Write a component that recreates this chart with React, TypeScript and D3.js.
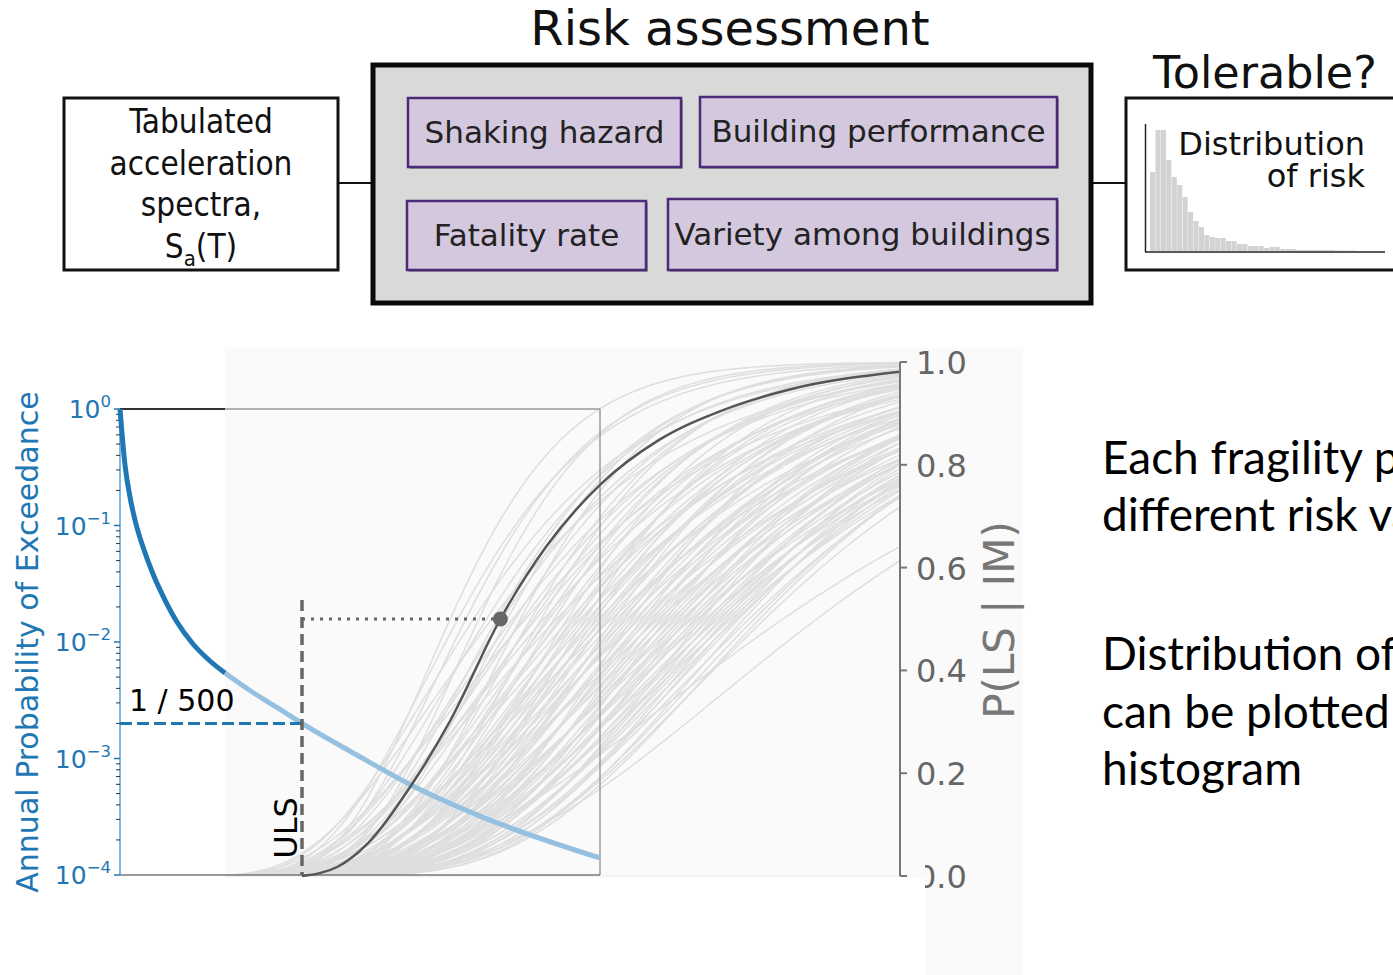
import React from 'react';
import * as d3 from 'd3';

// ---------- flow diagram content ----------
const mainTitle = 'Risk assessment';
const rightTitle = 'Tolerable?';
const inputLines = ['Tabulated', 'acceleration', 'spectra,'];
const riskFactors = ['Shaking hazard', 'Building performance', 'Fatality rate', 'Variety among buildings'];
const distLines = ['Distribution', 'of risk'];
// histogram of risk (relative bar heights)
const histCounts = [79, 121, 121, 91, 74, 66, 54, 39, 30, 24, 16, 14, 13, 13, 10, 10, 7, 7, 5, 5, 5, 3, 4, 4, 2, 2, 2, 1, 1, 1, 1, 1, 1, 1, 0.5, 0.5, 0.5, 0.5];

// ---------- hazard curve (IM in g, annual probability of exceedance) ----------
const hazardIM = [0, 0.0192, 0.0385, 0.0615, 0.0885, 0.1269, 0.1731, 0.2192, 0.2808, 0.3462, 0.4038, 0.5, 0.6038, 0.7, 0.9038, 1.119, 1.404, 1.846];
const hazardAPE = [1.0, 0.3307, 0.1757, 0.103, 0.0654, 0.03835, 0.02293, 0.01485, 0.00961, 0.00687, 0.00542, 0.003835, 0.002741, 0.002, 0.001093, 0.000593, 0.000308, 0.00014];
const hazardSplitIndex = 10;
const ulsIM = 0.7;
const ulsAPE = 1 / 500;
const apeTickExps = [0, -1, -2, -3, -4];

// ---------- fragility curves ----------
const fragIM = [0.7, 0.837, 0.954, 1.121, 1.271, 1.463, 1.638, 1.846, 2.072, 2.322, 2.572, 3.0];
const fragP = [0.0, 0.018, 0.064, 0.177, 0.303, 0.5, 0.64, 0.761, 0.848, 0.907, 0.946, 0.981];
const fragMedianIndex = 5;
const grayMedians = [
  1.27, 1.3, 1.33, 1.36, 1.38, 1.41, 1.43, 1.45, 1.47, 1.49,
  1.51, 1.52, 1.54, 1.55, 1.56, 1.58, 1.59, 1.6, 1.62, 1.63,
  1.64, 1.65, 1.67, 1.68, 1.69, 1.7, 1.72, 1.73, 1.74, 1.75,
  1.76, 1.77, 1.78, 1.79, 1.8, 1.81, 1.82, 1.83, 1.84, 1.85,
  1.86, 1.87, 1.88, 1.89, 1.9, 1.91, 1.92, 1.93, 1.94, 1.95,
  1.96, 1.97, 1.98, 1.99, 2.0, 2.01, 2.02, 2.03, 2.04, 2.05,
  2.06, 2.07, 2.08, 2.09, 2.1, 2.11, 2.12, 2.13, 2.14, 2.15,
  2.16, 2.17, 2.18, 2.19, 2.2, 2.21, 2.22, 2.23, 2.24, 2.25,
  2.26, 2.27, 2.28, 2.29, 2.3, 2.31, 2.32, 2.33, 2.34, 2.35,
  2.36, 2.37, 2.38, 2.4, 2.42, 2.44, 2.46, 2.48, 2.55, 2.68,
];
const grayBetas = [
  0.28, 0.33, 0.3, 0.38, 0.27, 0.35, 0.42, 0.31, 0.36, 0.29,
  0.4, 0.33, 0.27, 0.37, 0.44, 0.3, 0.35, 0.39, 0.28, 0.42,
  0.32, 0.36, 0.3, 0.45, 0.34, 0.38, 0.29, 0.41, 0.33, 0.36,
  0.31, 0.43, 0.35, 0.28, 0.39, 0.33, 0.37, 0.3, 0.42, 0.34,
  0.38, 0.31, 0.36, 0.44, 0.29, 0.4, 0.33, 0.37, 0.32, 0.41,
  0.35, 0.28, 0.39, 0.34, 0.43, 0.31, 0.37, 0.33, 0.4, 0.3,
  0.36, 0.42, 0.32, 0.38, 0.29, 0.35, 0.41, 0.33, 0.37, 0.31,
  0.39, 0.34, 0.3, 0.36, 0.42, 0.32, 0.38, 0.35, 0.29, 0.4,
  0.33, 0.37, 0.31, 0.35, 0.39, 0.32, 0.36, 0.3, 0.34, 0.38,
  0.31, 0.35, 0.33, 0.3, 0.34, 0.32, 0.31, 0.33, 0.45, 0.39,
];
const pTicks = [0, 0.2, 0.4, 0.6, 0.8, 1.0];

// ---------- notes ----------
const note1 = ['Each fragility produces a', 'different risk value'];
const note2 = ['Distribution of risk', 'can be plotted as a', 'histogram'];

function normCdf(z: number) {
  const t = 1 / (1 + 0.2316419 * Math.abs(z));
  const d = 0.3989423 * Math.exp((-z * z) / 2);
  const p = d * t * (0.3193815 + t * (-0.3565638 + t * (1.781478 + t * (-1.821256 + t * 1.330274))));
  return z > 0 ? 1 - p : p;
}

const DV = "'DejaVu Sans', Verdana, sans-serif";
const DVC = "'DejaVu Sans Condensed', 'DejaVu Sans', sans-serif";
const NOTE_FONT = "Lato, 'Source Sans Pro', sans-serif";
const BLUE = '#1f77b4';

export default function App() {
  const W = 1393, H = 975;
  const x = d3.scaleLinear().domain([0, 3]).range([120, 900]);
  const yA = d3.scaleLog().domain([1e-4, 1]).range([875, 409]);
  const yP = d3.scaleLinear().domain([0, 1]).range([876, 362]);

  const hazIdx = hazardAPE.map((_, i) => i);
  const darkIdx = hazIdx.filter((i) => i <= hazardSplitIndex);
  const lightIdx = hazIdx.filter((i) => i >= hazardSplitIndex);
  const hl = d3.line<number>().x((i) => x(hazardIM[i])).y((i) => yA(hazardAPE[i])).curve(d3.curveMonotoneX);

  const fragLine = d3.line<number>().x((i) => x(fragIM[i])).y((i) => yP(fragP[i])).curve(d3.curveMonotoneX);
  const imGrid = d3.range(0.4, 3.0001, 0.025);
  const grayLine = (m: number, b: number) =>
    d3.line<number>().x((v) => x(v)).y((v) => yP(normCdf(Math.log(v / m) / b))).curve(d3.curveBasis)(imGrid) || '';

  // histogram scales
  const hx = d3.scaleBand<number>().domain(histCounts.map((_, i) => i)).range([1150, 1356]).paddingInner(0.06);
  const hy = d3.scaleLinear().domain([0, 121]).range([251, 130]);

  const minorTicks: number[] = [];
  for (let k = -4; k < 0; k++) for (let mm = 2; mm <= 9; mm++) minorTicks.push(mm * Math.pow(10, k));

  const boxes = [
    { x: 408, y: 98, w: 273, h: 69 },
    { x: 700, y: 97, w: 357, h: 70 },
    { x: 407, y: 201, w: 239, h: 69 },
    { x: 668, y: 199, w: 389, h: 71 },
  ];

  const ulsX = x(ulsIM);
  const ulsY = yA(ulsAPE);
  const dotX = x(fragIM[fragMedianIndex]);
  const dotY = yP(fragP[fragMedianIndex]);

  return (
    <svg width={W} height={H} viewBox={`0 0 ${W} ${H}`} style={{ position: 'absolute', left: 0, top: 0, background: '#fff' }}>
      <defs>
        <clipPath id="fragClip"><rect x={225} y={340} width={675} height={536} /></clipPath>
        <clipPath id="zeroClip"><rect x={925} y={840} width={200} height={80} /></clipPath>
      </defs>
      <rect x={0} y={0} width={W} height={H} fill="#fff" />

      {/* ===== flow diagram ===== */}
      <text x={730} y={45} textAnchor="middle" fontFamily={DV} fontSize={48} fill="#111">{mainTitle}</text>
      <line x1={338} y1={183} x2={371} y2={183} stroke="#111" strokeWidth={2} />
      <line x1={1093} y1={183} x2={1126} y2={183} stroke="#111" strokeWidth={2} />
      <rect x={64} y={98} width={274} height={172} fill="#fff" stroke="#111" strokeWidth={3} />
      {inputLines.map((t, i) => (
        <text key={t} x={201} y={133 + i * 41.5} textAnchor="middle" fontFamily={DVC} fontStretch="condensed" fontSize={33} fill="#111">{t}</text>
      ))}
      <text x={201} y={258} textAnchor="middle" fontFamily={DVC} fontStretch="condensed" fontSize={33} fill="#111">
        S<tspan dy={8} fontSize={22}>a</tspan><tspan dy={-8}>(T)</tspan>
      </text>

      <rect x={373} y={65} width={718} height={238} fill="#d9d9d9" stroke="#0a0a0a" strokeWidth={5} />
      {boxes.map((b, i) => (
        <g key={i}>
          <rect x={b.x + 1.5} y={b.y + 1.5} width={b.w} height={b.h} fill="#555" />
          <rect x={b.x} y={b.y} width={b.w} height={b.h} fill="#d4c8df" stroke="#4b2a78" strokeWidth={2.5} />
          <text x={b.x + b.w / 2} y={b.y + b.h / 2 + 10} textAnchor="middle" fontFamily={DV} fontSize={31} fill="#222">{riskFactors[i]}</text>
        </g>
      ))}

      <text x={1265} y={88} textAnchor="middle" fontFamily={DV} fontSize={44.5} fill="#111">{rightTitle}</text>
      <rect x={1126} y={98} width={300} height={172} fill="#fff" stroke="#111" strokeWidth={3} />
      {histCounts.map((c, i) => (
        <rect key={i} x={hx(i)} y={hy(c)} width={hx.bandwidth()} height={251 - hy(c)} fill="#d3d3d3" />
      ))}
      <line x1={1145.5} y1={124} x2={1145.5} y2={252} stroke="#222" strokeWidth={1.5} />
      <line x1={1145} y1={252} x2={1385} y2={252} stroke="#222" strokeWidth={1.5} />
      {distLines.map((t, i) => (
        <text key={t} x={1365} y={155 + i * 32} textAnchor="end" fontFamily={DV} fontSize={32} fill="#111">{t}</text>
      ))}

      {/* ===== fragility panel background ===== */}
      <rect x={225} y={348} width={798} height={530} fill="#fafafa" />
      <rect x={925} y={878} width={98} height={97} fill="#fafafa" />

      {/* gray fragility curves */}
      <g clipPath="url(#fragClip)">
        {grayMedians.map((m, i) => (
          <path key={i} d={grayLine(m, grayBetas[i])} fill="none" stroke="#dedede" strokeWidth={1.5} />
        ))}
      </g>
      <line x1={225} y1={876} x2={900} y2={876} stroke="#ececec" strokeWidth={1} />

      {/* hazard axes box */}
      <line x1={120} y1={409} x2={225} y2={409} stroke="#333" strokeWidth={2} />
      <line x1={225} y1={409} x2={600} y2={409} stroke="#9a9a9a" strokeWidth={1.5} />
      <line x1={600} y1={409} x2={600} y2={875} stroke="#9a9a9a" strokeWidth={1.5} />
      <line x1={120} y1={875} x2={600} y2={875} stroke="#777" strokeWidth={1.5} />
      <line x1={120} y1={409} x2={120} y2={875} stroke="#5a9fd4" strokeWidth={1.5} />
      {minorTicks.map((v, i) => (
        <line key={i} x1={116} x2={120} y1={yA(v)} y2={yA(v)} stroke="#333" strokeWidth={1} />
      ))}
      {apeTickExps.map((e) => (
        <g key={e}>
          <line x1={114} x2={120} y1={yA(Math.pow(10, e))} y2={yA(Math.pow(10, e))} stroke={BLUE} strokeWidth={1.5} />
          <text x={111} y={yA(Math.pow(10, e)) + 9} textAnchor="end" fontFamily={DV} fontSize={25} fill={BLUE}>
            10<tspan dy={-11} fontSize={16.5}>{e === 0 ? '0' : '\u2212' + Math.abs(e)}</tspan>
          </text>
        </g>
      ))}
      <text transform="translate(38,642) rotate(-90)" textAnchor="middle" fontFamily={DV} fontSize={30} fill={BLUE}>Annual Probability of Exceedance</text>

      {/* hazard curve */}
      <path d={hl(lightIdx) || ''} fill="none" stroke="#96c0e0" strokeWidth={5} />
      <path d={hl(darkIdx) || ''} fill="none" stroke={BLUE} strokeWidth={5} />

      {/* ULS construction lines */}
      <line x1={120} y1={ulsY} x2={ulsX} y2={ulsY} stroke={BLUE} strokeWidth={3} strokeDasharray="12,5" />
      <text x={129} y={711} fontFamily={DV} fontSize={30} fill="#000">1 / 500</text>
      <line x1={ulsX} y1={600} x2={ulsX} y2={875} stroke="#666" strokeWidth={3.5} strokeDasharray="11,6" />
      <line x1={ulsX} y1={dotY} x2={dotX} y2={dotY} stroke="#666" strokeWidth={3} strokeDasharray="3,6" />
      <text transform={`translate(297,828) rotate(-90)`} textAnchor="middle" fontFamily={DV} fontSize={32} fill="#000">ULS</text>

      {/* highlighted fragility curve */}
      <path d={fragLine(fragIM.map((_, i) => i)) || ''} fill="none" stroke="#555" strokeWidth={2.5} />
      <circle cx={dotX} cy={dotY} r={7.5} fill="#666" />

      {/* probability axis */}
      <line x1={900} y1={362} x2={900} y2={876} stroke="#777" strokeWidth={2} />
      {pTicks.map((p) => (
        <g key={p}>
          <line x1={900} x2={907} y1={yP(p)} y2={yP(p)} stroke="#777" strokeWidth={2} />
          <text x={916} y={yP(p) + 12} fontFamily={DV} fontSize={32} fill="#666" clipPath={p === 0 ? 'url(#zeroClip)' : undefined}>{p.toFixed(1)}</text>
        </g>
      ))}
      <text transform="translate(1014,620) rotate(-90)" textAnchor="middle" fontFamily={DV} fontSize={42} fill="#777">P(LS | IM)</text>

      {/* notes */}
      {note1.map((t, i) => (
        <text key={t} x={1102} y={474 + i * 57} fontFamily={NOTE_FONT} fontSize={46} fill="#000">{t}</text>
      ))}
      {note2.map((t, i) => (
        <text key={t} x={1102} y={670 + i * 57.5} fontFamily={NOTE_FONT} fontSize={46} fill="#000">{t}</text>
      ))}
    </svg>
  );
}
